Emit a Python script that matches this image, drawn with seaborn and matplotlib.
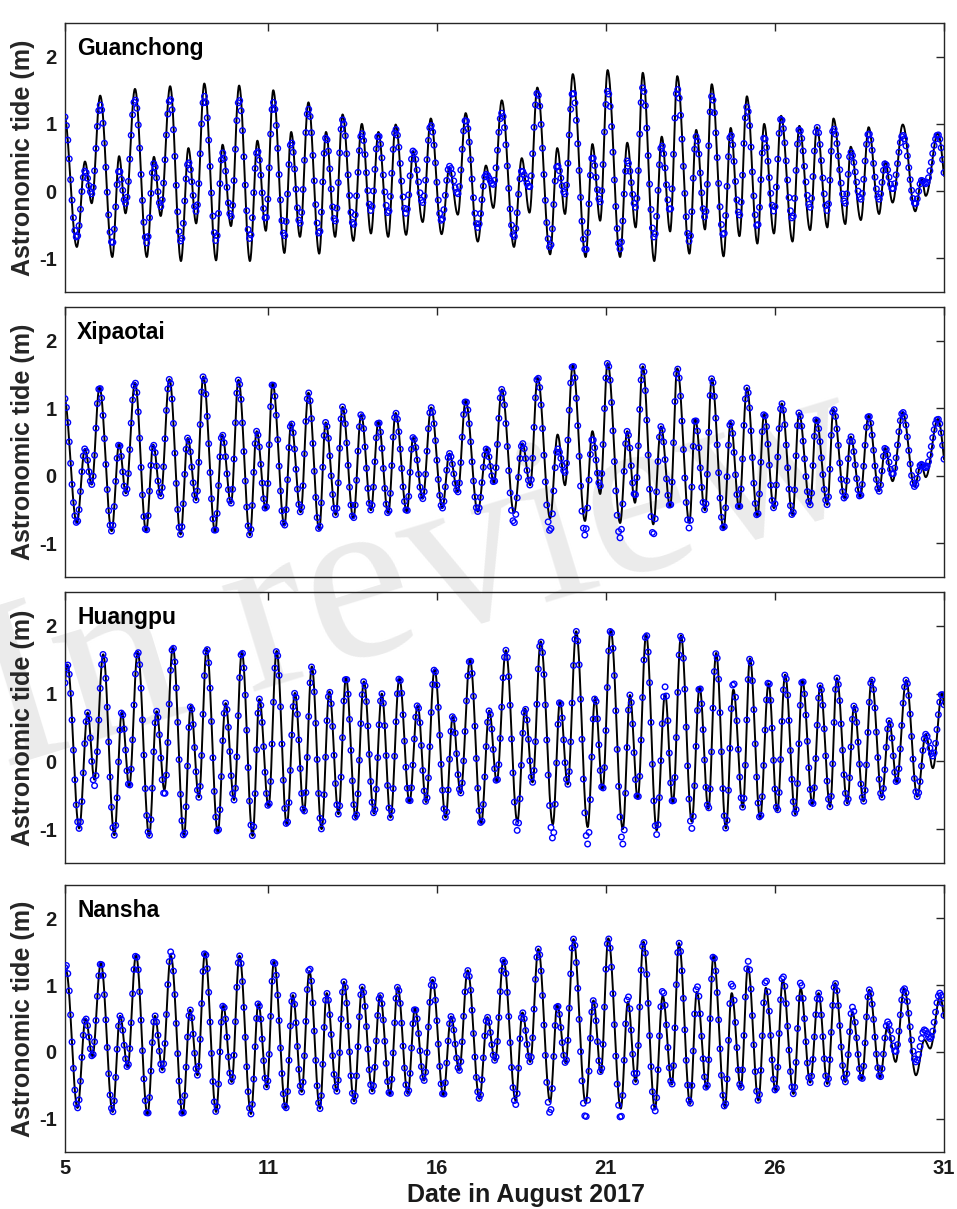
import numpy as np
import pandas as pd
import matplotlib
matplotlib.use("Agg")
import matplotlib.pyplot as plt
import seaborn as sns

# ---------------------------------------------------------------------------
# Data: times (day of August 2017) of successive high/low waters and their
# heights (m).  "pred" = astronomic prediction, "obs" = measured extremes.
# ---------------------------------------------------------------------------
stations = ["Guanchong", "Xipaotai", "Huangpu", "Nansha"]
x_ticks = [5, 11, 16, 21, 26, 31]
y_ticks = [-1, 0, 1, 2]

guanchong_t = [4.97, 5.35, 5.59, 5.79, 6.04, 6.40, 6.60, 6.79, 7.07, 7.42, 7.63, 7.83,
               8.11, 8.43, 8.65, 8.88, 9.12, 9.47, 9.66, 9.91, 10.15, 10.47, 10.69, 10.94,
               11.16, 11.49, 11.69, 11.95, 12.20, 12.52, 12.72, 12.99, 13.21, 13.53, 13.78, 14.05,
               14.27, 14.56, 14.78, 15.09, 15.30, 15.58, 15.82, 16.14, 16.37, 16.62, 16.85, 17.21,
               17.45, 17.67, 17.92, 18.28, 18.51, 18.74, 18.97, 19.35, 19.56, 19.79, 20.02, 20.40,
               20.60, 20.83, 21.05, 21.42, 21.63, 21.88, 22.09, 22.43, 22.65, 22.90, 23.11, 23.47,
               23.67, 23.93, 24.13, 24.48, 24.69, 24.95, 25.17, 25.48, 25.68, 25.97, 26.18, 26.52,
               26.72, 27.04, 27.24, 27.55, 27.73, 28.08, 28.24, 28.54, 28.77, 29.08, 29.26, 29.48,
               29.78, 30.15, 30.34, 30.46, 30.82, 31.15]
guanchong_pred = [1.15, -0.83, 0.44, -0.18, 1.42, -0.98, 0.52, -0.33, 1.52, -0.98, 0.51, -0.37,
                  1.56, -1.04, 0.64, -0.48, 1.60, -1.03, 0.69, -0.52, 1.57, -1.04, 0.75, -0.59,
                  1.50, -0.92, 0.88, -0.68, 1.32, -0.93, 0.88, -0.68, 1.14, -0.74, 1.00, -0.63,
                  0.88, -0.68, 0.99, -0.65, 0.59, -0.46, 1.08, -0.64, 0.35, -0.35, 1.16, -0.75,
                  0.38, -0.25, 1.35, -0.83, 0.49, -0.32, 1.54, -0.94, 0.64, -0.34, 1.74, -0.98,
                  0.70, -0.44, 1.80, -0.98, 0.72, -0.54, 1.76, -1.04, 0.81, -0.60, 1.71, -0.93,
                  0.91, -0.57, 1.59, -0.97, 0.94, -0.67, 1.41, -0.78, 1.00, -0.63, 1.12, -0.75,
                  0.97, -0.58, 0.95, -0.54, 1.08, -0.49, 0.66, -0.43, 0.95, -0.34, 0.44, -0.17,
                  0.99, -0.30, 0.19, -0.07, 0.86, -0.25]
guanchong_obs = [1.13, -0.69, 0.30, -0.04, 1.28, -0.78, 0.31, -0.18, 1.36, -0.77, 0.41, -0.23,
                 1.37, -0.75, 0.43, -0.30, 1.41, -0.74, 0.57, -0.38, 1.36, -0.71, 0.60, -0.42,
                 1.32, -0.67, 0.73, -0.48, 1.22, -0.64, 0.80, -0.45, 1.06, -0.50, 0.86, -0.29,
                 0.83, -0.33, 0.92, -0.33, 0.60, -0.17, 0.98, -0.44, 0.37, -0.04, 1.06, -0.54,
                 0.25, 0.10, 1.16, -0.68, 0.30, 0.06, 1.46, -0.84, 0.38, -0.04, 1.47, -0.89,
                 0.51, -0.16, 1.49, -0.86, 0.45, -0.24, 1.54, -0.69, 0.68, -0.29, 1.52, -0.75,
                 0.81, -0.39, 1.41, -0.66, 0.84, -0.36, 1.25, -0.53, 0.80, -0.30, 1.08, -0.41,
                 0.92, -0.24, 0.95, -0.29, 0.93, -0.18, 0.58, -0.12, 0.86, -0.12, 0.41, 0.03,
                 0.83, -0.19, 0.16, 0.11, 0.84, -0.15]

xipaotai_t = [4.97, 5.35, 5.59, 5.79, 6.02, 6.38, 6.60, 6.80, 7.07, 7.40, 7.61, 7.83,
              8.09, 8.42, 8.63, 8.88, 9.09, 9.44, 9.65, 9.91, 10.13, 10.47, 10.67, 10.94,
              11.14, 11.49, 11.69, 11.97, 12.20, 12.52, 12.71, 13.01, 13.21, 13.53, 13.76, 14.05,
              14.27, 14.56, 14.78, 15.11, 15.30, 15.58, 15.83, 16.16, 16.37, 16.62, 16.85, 17.21,
              17.47, 17.69, 17.92, 18.28, 18.53, 18.76, 18.98, 19.35, 19.57, 19.79, 20.02, 20.38,
              20.60, 20.83, 21.05, 21.42, 21.63, 21.86, 22.09, 22.40, 22.63, 22.90, 23.11, 23.47,
              23.64, 23.93, 24.13, 24.48, 24.69, 24.94, 25.17, 25.48, 25.68, 25.97, 26.20, 26.52,
              26.71, 27.04, 27.22, 27.55, 27.73, 28.06, 28.24, 28.52, 28.77, 29.08, 29.26, 29.48,
              29.78, 30.13, 30.32, 30.46, 30.82, 31.15]
xipaotai_pred = [1.17, -0.70, 0.40, -0.13, 1.31, -0.82, 0.47, -0.26, 1.38, -0.82, 0.46, -0.30,
                 1.43, -0.87, 0.56, -0.36, 1.47, -0.83, 0.61, -0.41, 1.42, -0.88, 0.66, -0.50,
                 1.37, -0.74, 0.78, -0.54, 1.23, -0.80, 0.79, -0.58, 1.02, -0.63, 0.91, -0.51,
                 0.80, -0.56, 0.93, -0.53, 0.57, -0.34, 1.01, -0.48, 0.33, -0.24, 1.11, -0.53,
                 0.40, -0.10, 1.28, -0.55, 0.48, -0.14, 1.46, -0.63, 0.61, -0.14, 1.64, -0.67,
                 0.66, -0.27, 1.67, -0.70, 0.66, -0.40, 1.62, -0.72, 0.73, -0.46, 1.59, -0.70,
                 0.84, -0.51, 1.44, -0.79, 0.80, -0.48, 1.30, -0.60, 0.92, -0.48, 1.07, -0.59,
                 0.93, -0.43, 0.84, -0.43, 0.99, -0.34, 0.58, -0.31, 0.89, -0.23, 0.41, -0.08,
                 0.94, -0.16, 0.17, -0.02, 0.84, -0.20]
# measured extremes that depart from the prediction: (day, height)
xipaotai_obs_changes = [(18.28, -0.70), (19.35, -0.82), (19.57, 0.40), (19.79, 0.05),
                        (20.38, -0.88), (20.60, 0.55), (20.83, -0.15), (21.42, -0.92),
                        (21.86, -0.30), (22.40, -0.88), (23.47, -0.78), (29.48, 0.02),
                        (30.46, 0.12)]

huangpu_t = [4.80, 5.07, 5.42, 5.67, 5.87, 6.13, 6.46, 6.68, 6.90, 7.15, 7.49, 7.71,
             7.94, 8.19, 8.52, 8.72, 8.96, 9.19, 9.52, 9.75, 10.00, 10.23, 10.55, 10.75,
             11.02, 11.26, 11.56, 11.80, 12.07, 12.30, 12.59, 12.82, 13.09, 13.31, 13.60, 13.84,
             14.14, 14.37, 14.63, 14.89, 15.19, 15.43, 15.68, 15.93, 16.26, 16.47, 16.70, 16.98,
             17.31, 17.55, 17.77, 18.04, 18.38, 18.61, 18.83, 19.07, 19.43, 19.64, 19.87, 20.12,
             20.46, 20.68, 20.90, 21.14, 21.50, 21.71, 21.94, 22.19, 22.50, 22.75, 22.98, 23.22,
             23.54, 23.77, 24.03, 24.26, 24.55, 24.77, 25.05, 25.26, 25.56, 25.81, 26.07, 26.30,
             26.60, 26.81, 27.11, 27.34, 27.63, 27.83, 28.14, 28.34, 28.62, 28.86, 29.16, 29.38,
             29.60, 29.88, 30.21, 30.46, 30.67, 30.94, 31.20]
huangpu_pred = [-0.30, 1.43, -0.99, 0.72, -0.27, 1.58, -1.09, 0.73, -0.37, 1.62, -1.10, 0.74,
                -0.42, 1.69, -1.11, 0.82, -0.53, 1.67, -1.05, 0.86, -0.57, 1.62, -1.10, 0.92,
                -0.67, 1.63, -0.94, 1.01, -0.75, 1.40, -1.00, 1.03, -0.78, 1.24, -0.84, 1.18,
                -0.77, 1.00, -0.83, 1.23, -0.60, 0.83, -0.60, 1.36, -0.83, 0.67, -0.47, 1.50,
                -0.92, 0.75, -0.30, 1.64, -0.89, 0.78, -0.31, 1.77, -0.93, 0.89, -0.34, 1.92,
                -0.97, 0.94, -0.42, 1.94, -1.00, 0.98, -0.55, 1.88, -1.02, 1.00, -0.62, 1.86,
                -0.89, 1.10, -0.70, 1.60, -0.99, 1.06, -0.68, 1.52, -0.84, 1.15, -0.73, 1.28,
                -0.78, 1.20, -0.64, 1.12, -0.67, 1.23, -0.62, 0.82, -0.59, 1.21, -0.53, 0.60,
                -0.31, 1.20, -0.52, 0.40, -0.10, 1.00, -0.30]
huangpu_obs_changes = [(5.87, -0.36), (7.94, -0.50), (18.38, -1.02), (19.43, -1.14),
                       (20.46, -1.22), (21.50, -1.22), (22.50, -1.08), (22.75, 1.10),
                       (23.54, -0.99), (24.77, 1.17), (25.81, 1.18), (30.67, 0.08)]

nansha_t = [4.70, 5.03, 5.37, 5.61, 5.81, 6.06, 6.41, 6.63, 6.85, 7.10, 7.44, 7.66, 7.88,
            8.13, 8.48, 8.70, 8.92, 9.14, 9.47, 9.68, 9.93, 10.16, 10.50, 10.72, 10.97,
            11.18, 11.53, 11.74, 12.00, 12.23, 12.54, 12.74, 13.04, 13.25, 13.55, 13.79, 14.09,
            14.32, 14.61, 14.84, 15.14, 15.35, 15.62, 15.87, 16.19, 16.42, 16.66, 16.91, 17.26,
            17.49, 17.72, 17.97, 18.33, 18.53, 18.76, 19.00, 19.35, 19.56, 19.81, 20.04, 20.40,
            20.63, 20.85, 21.07, 21.44, 21.65, 21.88, 22.11, 22.45, 22.68, 22.95, 23.16, 23.49,
            23.69, 23.98, 24.18, 24.52, 24.72, 24.99, 25.20, 25.51, 25.73, 26.02, 26.23, 26.55,
            26.76, 27.04, 27.29, 27.55, 27.78, 28.08, 28.29, 28.57, 28.79, 29.11, 29.33, 29.57,
            29.82, 30.17, 30.42, 30.59, 30.88, 31.20]
nansha_pred = [-0.60, 1.22, -0.84, 0.50, -0.07, 1.33, -0.90, 0.54, -0.23, 1.45, -0.94, 0.54, -0.27,
               1.44, -0.94, 0.63, -0.35, 1.49, -0.90, 0.70, -0.45, 1.44, -0.93, 0.73, -0.53,
               1.36, -0.85, 0.85, -0.60, 1.21, -0.85, 0.88, -0.59, 1.05, -0.74, 0.97, -0.59,
               0.85, -0.64, 0.97, -0.63, 0.65, -0.43, 1.08, -0.65, 0.53, -0.28, 1.22, -0.70,
               0.52, -0.13, 1.38, -0.73, 0.59, -0.15, 1.54, -0.75, 0.70, -0.17, 1.69, -0.77,
               0.77, -0.31, 1.70, -0.85, 0.75, -0.45, 1.65, -0.85, 0.84, -0.49, 1.63, -0.78,
               0.90, -0.55, 1.44, -0.83, 0.88, -0.54, 1.28, -0.73, 0.96, -0.59, 1.08, -0.63,
               0.95, -0.46, 0.88, -0.48, 1.03, -0.45, 0.59, -0.41, 0.93, -0.38, 0.39, -0.15,
               0.95, -0.35, 0.18, 0.05, 0.82, -0.20]
nansha_obs_changes = [(5.03, 1.30), (8.13, 1.50), (12.23, 1.26), (18.33, -0.79), (19.35, -0.92),
                      (20.40, -0.99), (21.44, -1.00), (21.65, 0.84), (22.45, -0.89),
                      (22.68, 0.92), (23.69, 0.99), (24.72, 1.03), (25.20, 1.36),
                      (25.73, 1.08), (26.23, 1.14), (26.76, 1.04), (28.29, 0.67),
                      (29.33, 0.45), (29.57, 0.00), (30.17, -0.15), (30.42, 0.33),
                      (30.59, 0.20), (30.88, 0.88)]


def apply_changes(times, heights, changes):
    out = list(heights)
    for day, value in changes:
        out[int(np.argmin(np.abs(np.asarray(times) - day)))] = value
    return out


def tide_curve(t_ext, h_ext, t):
    """Cosine-shaped rise and fall between successive high and low waters."""
    t_ext = np.asarray(t_ext)
    h_ext = np.asarray(h_ext)
    i = np.clip(np.searchsorted(t_ext, t, side="right") - 1, 0, len(t_ext) - 2)
    f = (t - t_ext[i]) / (t_ext[i + 1] - t_ext[i])
    h0, h1 = h_ext[i], h_ext[i + 1]
    return (h0 + h1) / 2 + (h0 - h1) / 2 * np.cos(np.pi * f)


series = {
    "Guanchong": (guanchong_t, guanchong_pred, guanchong_obs),
    "Xipaotai": (xipaotai_t, xipaotai_pred,
                 apply_changes(xipaotai_t, xipaotai_pred, xipaotai_obs_changes)),
    "Huangpu": (huangpu_t, huangpu_pred,
                apply_changes(huangpu_t, huangpu_pred, huangpu_obs_changes)),
    "Nansha": (nansha_t, nansha_pred,
               apply_changes(nansha_t, nansha_pred, nansha_obs_changes)),
}

t_line = np.linspace(5, 31, 3121)          # fine time grid for the predicted tide
t_hourly = 5 + np.arange(0, 26 * 24 + 1) / 24.0   # hourly measurements

# ---------------------------------------------------------------------------
# Figure
# ---------------------------------------------------------------------------
sns.set_theme(style="white")
plt.rcParams["font.family"] = ["Liberation Sans", "DejaVu Sans"]
plt.rcParams["font.weight"] = "bold"

W, H = 957, 1209
fig = plt.figure(figsize=(W / 100, H / 100), dpi=100)
fig.patch.set_facecolor("white")

# light diagonal watermark behind the panels
fig.text(0.003, 0.365, "In review", rotation=17, rotation_mode="anchor",
         ha="left", va="baseline", fontsize=172, color="#ebebeb",
         family=["Liberation Serif", "DejaVu Serif"], fontweight="normal", zorder=-5)

panel_px = [(23, 292), (307, 577), (592, 863), (885, 1152)]
left_px, right_px = 65, 944
axis_color = "#262626"

for k, name in enumerate(stations):
    top, bot = panel_px[k]
    ax = fig.add_axes([left_px / W, 1 - bot / H, (right_px - left_px) / W, (bot - top) / H])
    ax.patch.set_alpha(0)

    t_ext, pred, obs = series[name]
    line_df = pd.DataFrame({"day": t_line, "tide": tide_curve(t_ext, pred, t_line)})
    obs_df = pd.DataFrame({"day": t_hourly, "tide": tide_curve(t_ext, obs, t_hourly)})

    sns.lineplot(data=line_df, x="day", y="tide", ax=ax, color="black",
                 linewidth=1.4, estimator=None, sort=False, zorder=2)
    sns.scatterplot(data=obs_df, x="day", y="tide", ax=ax, marker="o", s=16,
                    zorder=3, legend=False)
    pts = ax.collections[-1]
    pts.set_facecolor("none")
    pts.set_edgecolor("#0000ff")
    pts.set_linewidth(1.0)

    ax.set_xlim(5, 31)
    ax.set_ylim(-1.5, 2.5)
    ax.set_xticks(x_ticks)
    ax.set_yticks(y_ticks)
    ax.set_yticklabels([str(v) for v in y_ticks])
    ax.tick_params(direction="in", top=True, right=True, length=5.5, width=1.0,
                   color=axis_color, labelsize=14.5, labelcolor="#1a1a1a")
    ax.tick_params(axis="y", pad=6)
    ax.tick_params(axis="x", pad=5)
    if k < 3:
        ax.set_xticklabels([])
    else:
        ax.set_xticklabels([str(v) for v in x_ticks])
    for sp in ax.spines.values():
        sp.set_visible(True)
        sp.set_color(axis_color)
        sp.set_linewidth(1.0)

    ax.set_xlabel("")
    ax.set_ylabel("Astronomic tide (m)", fontsize=18, fontweight="bold", labelpad=3)
    ax.text(0.0137, 0.905, name, transform=ax.transAxes, ha="left", va="center",
            fontsize=16.5, fontweight="bold", color="black")

fig.text(526 / W, 1 - 1195 / H, "Date in August 2017", ha="center", va="center",
         fontsize=18, fontweight="bold", color="#1a1a1a")

fig.savefig("out.png", dpi=100, facecolor="white")
